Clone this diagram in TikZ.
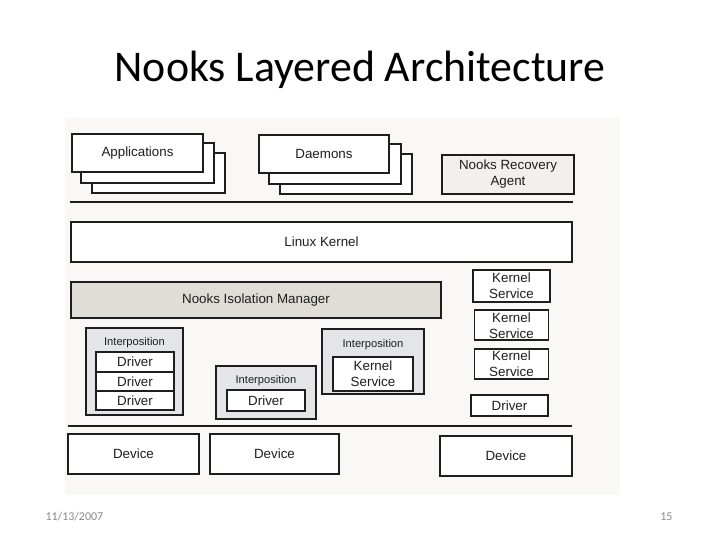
\documentclass[tikz,border=0pt]{standalone}
\usepackage{fontspec}
\setmainfont{Carlito}
\newfontfamily\scanfont{Liberation Sans}
\usetikzlibrary{positioning,backgrounds}

\definecolor{scanbg}{RGB}{249,248,247}
\definecolor{mgrshade}{RGB}{224,221,215}
\definecolor{ipshade}{RGB}{227,229,232}
\definecolor{agentfill}{RGB}{242,240,237}
\definecolor{ink}{RGB}{30,30,30}
\definecolor{footgray}{RGB}{137,137,137}

\begin{document}
\begin{tikzpicture}[x=1bp,y=-1bp,
  box/.style={draw=ink,line width=1.9bp,fill=white,inner sep=0pt,
    align=center,text=ink,font=\scanfont\fontsize{13.4}{16}\selectfont},
  layer/.style={draw=ink,line width=1.9bp,fill=white},
  ipbox/.style={box,fill=ipshade},
  iplbl/.style={text=ink,font=\scanfont\fontsize{11.2}{13}\selectfont},
  sep/.style={draw=ink,line width=1.6bp},
]

\useasboundingbox (0,0) rectangle (720,540);

% Page and scanned figure area
\begin{scope}[on background layer]
  \fill[white] (0,0) rectangle (720,540);
  \fill[scanbg] (65,118) rectangle (620,495);
\end{scope}

% Title and footer
\node[anchor=base,font=\fontsize{44}{50}\selectfont] (title) at (360,82)
  {Nooks Layered Architecture};
\node[anchor=base west,text=footgray,font=\fontsize{12}{14}\selectfont] (date)
  at (42,520) {11/13/2007};
\node[anchor=base east,text=footgray,font=\fontsize{12}{14}\selectfont] (page)
  at (676,520) {15};

% User level
\node[box,minimum width=131bp,minimum height=38bp] (apps) at (137.5,153)
  {Applications};
\node[box,minimum width=130bp,minimum height=38bp] (daemons) at (324,154)
  {Daemons};
\begin{scope}[on background layer]
  \foreach \dx/\dy in {21/20,10/10} {
    \draw[layer] ([shift={(\dx,\dy)}]apps.south west)
      rectangle ([shift={(\dx,\dy)}]apps.north east);
    \draw[layer] ([shift={(\dx+1,\dy)}]daemons.south west)
      rectangle ([shift={(\dx+1,\dy)}]daemons.north east);
  }
\end{scope}
\node[box,fill=agentfill,minimum width=132bp,minimum height=39bp] (agent)
  at (508,174.5) {Nooks Recovery\\Agent};

\draw[sep] (70,202) -- (573,202);

% Kernel level
\node[box,minimum width=501bp,minimum height=40bp] (kernel) at (321.5,242)
  {Linux Kernel};
\node[box,fill=mgrshade,minimum width=370bp,minimum height=36bp] (nim)
  at (256,300) {Nooks Isolation Manager};

% Unisolated kernel services
\node[box,minimum width=77bp,minimum height=32bp] (ks1) at (511.5,286)
  {Kernel\\Service};
\node[box,minimum width=74bp,minimum height=30bp,below=6.5bp of ks1] (ks2)
  {Kernel\\Service};
\node[box,minimum width=74bp,minimum height=30bp,below=6.5bp of ks2] (ks3)
  {Kernel\\Service};
\node[box,minimum width=77bp,minimum height=21bp] (rdrv) at (509.5,405.5)
  {Driver};

% Isolated extensions
\node[ipbox,minimum width=97bp,minimum height=87bp] (ip1) at (134.5,371.5) {};
\node[iplbl] (ip1lbl) at (134.5,343) {Interposition};
\foreach \i/\y in {1/362,2/381.3,3/400.6}
  \node[box,minimum width=78bp,minimum height=19.3bp] (ip1drv\i) at (135,\y)
    {Driver};

\node[ipbox,minimum width=100bp,minimum height=53bp] (ip2) at (266,392.5) {};
\node[iplbl] (ip2lbl) at (266,381) {Interposition};
\node[box,minimum width=78bp,minimum height=21bp] (ip2drv) at (266,400.5)
  {Driver};

\node[ipbox,minimum width=102bp,minimum height=65bp] (ip3) at (373,361.5) {};
\node[iplbl] (ip3lbl) at (373,345) {Interposition};
\node[box,minimum width=80bp,minimum height=34bp] (ip3ks) at (373,374)
  {Kernel\\Service};

\draw[sep] (68,426) -- (572,426);

% Hardware
\node[box,minimum width=131bp,minimum height=40bp] (dev1) at (133.5,454)
  {Device};
\node[box,minimum width=129bp,minimum height=40bp] (dev2) at (274.5,454)
  {Device};
\node[box,minimum width=132bp,minimum height=40bp] (dev3) at (506,456)
  {Device};

\end{tikzpicture}
\end{document}
